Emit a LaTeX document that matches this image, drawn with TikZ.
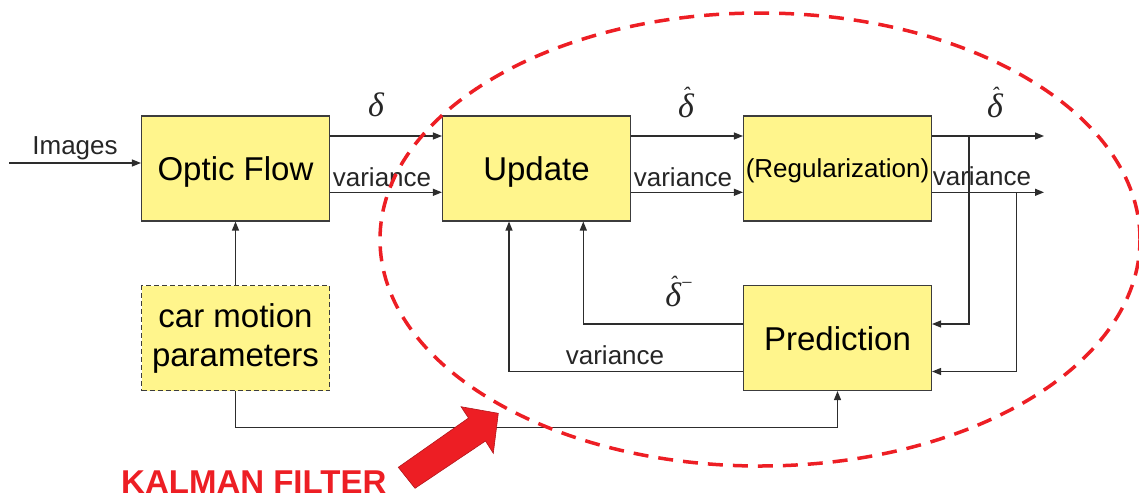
\documentclass[tikz,border=0pt]{standalone}
\usepackage{fontspec}
\setmainfont{Liberation Sans}
\newfontfamily\symfont{Liberation Serif}
\usetikzlibrary{arrows.meta}
\definecolor{boxfill}{RGB}{255,245,140}
\definecolor{edgegray}{RGB}{60,60,60}
\definecolor{wiregray}{RGB}{45,45,45}
\definecolor{kalred}{RGB}{237,30,36}
% estimate symbol: italic delta with a small circumflex above it
\newcommand{\hatdelta}{\ooalign{δ\cr\hidewidth\raisebox{15.5pt}{\fontsize{22}{22}\selectfont ˆ}\hidewidth\cr}}

\begin{document}
\begin{tikzpicture}[x=1pt,y=-1pt,
  block/.style={draw=edgegray, line width=1.1pt, fill=boxfill,
    minimum width=188pt, minimum height=105pt, inner sep=0pt,
    font=\fontsize{33}{39}\selectfont},
  wire/.style={draw=wiregray, line width=1.2pt},
  arr/.style={wire, -{Triangle[length=9pt,width=7pt]}},
  lbl/.style={font=\fontsize{26}{30}\selectfont, inner sep=0pt, anchor=base, text=black!85},
  sym/.style={font=\fontsize{34}{34}\selectfont\symfont\itshape, inner sep=0pt, anchor=base, text=black!85},
]
\useasboundingbox (0,0) rectangle (1139,498);

% processing blocks
\node[block, text height=24pt, text depth=0pt] (of) at (235.5,168.5) {Optic Flow};
\node[block, text height=24pt, text depth=0pt] (upd) at (536.5,168.5) {Update};
\node[block, text height=18.6pt, text depth=0pt, font=\fontsize{26}{30}\selectfont] (reg) at (837.5,168.5) {(Regularization)};
\node[block, text height=24pt, text depth=0pt] (pred) at (837.5,338) {Prediction};
\node[block, dash pattern=on 5pt off 3pt, align=center] (car) at (235.5,338) {car motion\\parameters};

% routing points
\coordinate (imgin) at (9,163);
\coordinate (outA) at (1044,136);
\coordinate (outB) at (1044,192.3);
\coordinate (tapA) at (969,136);
\coordinate (tapB) at (1016.7,192.3);
\coordinate (fbA) at (583.3,324);
\coordinate (fbB) at (509,371.5);
\coordinate (carbus) at (235.5,427.3);

% forward signal path
\draw[arr] (imgin) -- (imgin -| of.west);
\draw[arr] (of.east |- outA) -- (upd.west |- outA);
\draw[arr] (of.east |- outB) -- (upd.west |- outB);
\draw[arr] (upd.east |- outA) -- (reg.west |- outA);
\draw[arr] (upd.east |- outB) -- (reg.west |- outB);
\draw[arr] (reg.east |- outA) -- (outA);
\draw[arr] (reg.east |- outB) -- (outB);

% feedback through the prediction step
\draw[arr] (tapA) |- (pred.east |- fbA);
\draw[arr] (tapB) |- (pred.east |- fbB);
\draw[arr] (pred.west |- fbA) -| (upd.south -| fbA);
\draw[arr] (pred.west |- fbB) -| (upd.south -| fbB);

% car motion inputs
\draw[arr] (car.north) -- (of.south);
\draw[arr] (car.south) -- (carbus) -| (pred.south);

% signal labels
\node[lbl] (lImages) at (75,154) {Images};
\node[lbl] (lv1) at (382,186.7) {variance};
\node[lbl] (lv2) at (683,186) {variance};
\node[lbl] (lv3) at (982,185.5) {variance};
\node[lbl] (lv4) at (615,364) {variance};
\node[sym] (d1) at (376,116) {δ};
\node[sym] (d2) at (686,117.5) {\hatdelta};
\node[sym] (d3) at (995,117.5) {\hatdelta};
\node[sym] (d4) at (679,306.5) {\hatdelta\raisebox{17pt}{\fontsize{20}{20}\selectfont\upshape −}};

% Kalman filter boundary
\draw[kalred, line width=3.5pt, dash pattern=on 15pt off 10pt] (760,239.5) ellipse [x radius=380pt, y radius=226.5pt];

% pointer arrow and caption
\filldraw[fill=kalred, draw=kalred!75!black, line width=0.6pt]
  (398.3,467.3) -- (468.5,418) -- (461,406.7) -- (498.3,413.3)
  -- (493.3,453.3) -- (485.5,441) -- (415,488.3) -- cycle;
\node[font=\fontsize{33}{36}\selectfont\bfseries, text=kalred, anchor=base west, inner sep=0pt] (kf) at (121,493) {KALMAN FILTER};
\end{tikzpicture}
\end{document}
